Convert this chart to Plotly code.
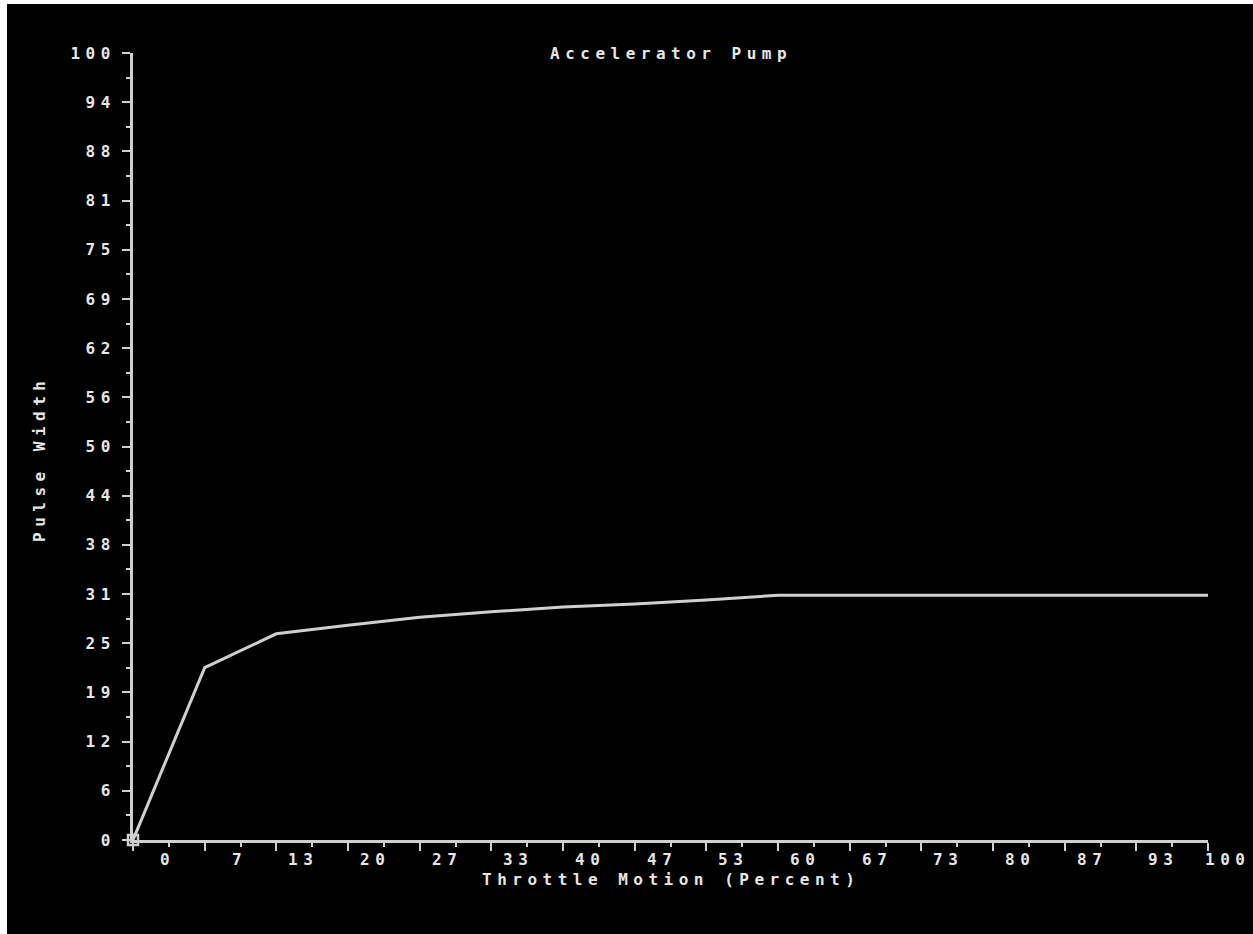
import plotly.graph_objects as go

# ---- data ----
throttle = [0, 6.67, 13.33, 20, 26.67, 33.33, 40, 46.67, 53.33, 60, 66.67, 73.33, 80, 86.67, 93.33, 100]
pulse = [0, 21.9, 26.2, 27.3, 28.3, 29.0, 29.6, 30.0, 30.5, 31.1, 31.1, 31.1, 31.1, 31.1, 31.1, 31.1]

x_tick_labels = ["0", "7", "13", "20", "27", "33", "40", "47", "53", "60", "67", "73", "80", "87", "93", "100"]
y_tick_vals = [0, 6.25, 12.5, 18.75, 25, 31.25, 37.5, 43.75, 50, 56.25, 62.5, 68.75, 75, 81.25, 87.5, 93.75, 100]
y_tick_labels = ["0", "6", "12", "19", "25", "31", "38", "44", "50", "56", "62", "69", "75", "81", "88", "94", "100"]

title = "Accelerator Pump"
x_title = "Throttle Motion (Percent)"
y_title = "Pulse Width"

FONT = "DejaVu Sans Mono"
FS = 16
TXT = "#e6e6e6"
LINE = "#cfcfcf"


def wide(s, sp=5.5):
    return f'<span style="letter-spacing:{sp}px"><b>{s}</b></span>'


fig = go.Figure()
fig.add_trace(go.Scatter(
    x=throttle, y=pulse, mode="lines",
    line=dict(color=LINE, width=3),
    hoverinfo="skip", showlegend=False,
))
fig.add_trace(go.Scatter(
    x=throttle[:1], y=pulse[:1], mode="markers",
    marker=dict(symbol="square-open", size=10, color=LINE, line=dict(width=2.5, color=LINE)),
    hoverinfo="skip", showlegend=False, cliponaxis=False,
))

step = 100 / (len(x_tick_labels) - 1)

fig.update_layout(
    width=1253, height=934,
    margin=dict(l=133, r=45, t=53, b=94),
    paper_bgcolor="white",
    plot_bgcolor="black",
    font=dict(family=FONT, size=FS, color=TXT),
    xaxis=dict(
        range=[0, 100], showgrid=False, zeroline=False,
        showline=True, linecolor=LINE, linewidth=3,
        tickmode="linear", tick0=0, dtick=step,
        ticks="outside", ticklen=8, tickwidth=2, tickcolor=LINE,
        showticklabels=False,
        minor=dict(tickmode="linear", tick0=step / 2, dtick=step, ticks="outside",
                   ticklen=4, tickwidth=2, tickcolor=LINE),
    ),
    yaxis=dict(
        range=[0, 100], showgrid=False, zeroline=False,
        showline=True, linecolor=LINE, linewidth=3,
        tickmode="array", tickvals=y_tick_vals,
        ticktext=[wide(t) for t in y_tick_labels],
        ticks="outside", ticklen=8, tickwidth=2, tickcolor=LINE,
        ticklabelstandoff=3,
        tickfont=dict(family=FONT, size=FS, color=TXT),
        minor=dict(tickmode="linear", tick0=y_tick_vals[1] / 2, dtick=y_tick_vals[1],
                   ticks="outside", ticklen=4, tickwidth=2, tickcolor=LINE),
    ),
    shapes=[dict(type="rect", xref="paper", yref="paper",
                 x0=(7 - 133) / 1075, x1=(1253 - 133) / 1075,
                 y0=(840 - 940) / 787, y1=(840 - 4) / 787,
                 fillcolor="black", line=dict(width=0), layer="below")],
)

annotations = []
for i, lab in enumerate(x_tick_labels):
    annotations.append(dict(
        x=(i + 0.5) * step / 100, y=0, xref="paper", yref="paper",
        text=wide(lab), showarrow=False, xanchor="right", yanchor="middle",
        xshift=8, yshift=-19, font=dict(family=FONT, size=FS, color=TXT),
    ))
annotations.append(dict(
    x=0.5, y=0, xref="paper", yref="paper", text=wide(x_title),
    showarrow=False, xanchor="center", yanchor="middle", yshift=-39,
    font=dict(family=FONT, size=FS, color=TXT),
))
annotations.append(dict(
    x=0, y=(840 - 459) / 787, xref="paper", yref="paper", text=wide(y_title),
    showarrow=False, xanchor="center", yanchor="middle", xshift=-93, textangle=-90,
    font=dict(family=FONT, size=FS, color=TXT),
))
annotations.append(dict(
    x=0.5, y=1, xref="paper", yref="paper", text=wide(title),
    showarrow=False, xanchor="center", yanchor="middle",
    font=dict(family=FONT, size=FS, color=TXT),
))
fig.update_layout(annotations=annotations)

fig.write_html("out.html")
